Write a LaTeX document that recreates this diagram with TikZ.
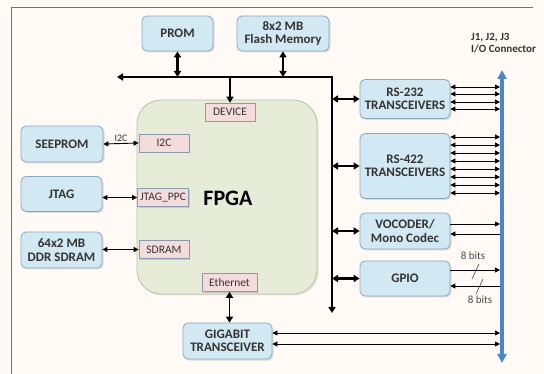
\documentclass[tikz,border=0pt]{standalone}
\usepackage{fontspec}
\setmainfont{Carlito}
\usetikzlibrary{arrows.meta,shadows}
\definecolor{bg}{HTML}{FFFAF6}
\definecolor{frame}{HTML}{9A6070}
\definecolor{boxfill}{HTML}{D2E8F2}
\definecolor{boxdraw}{HTML}{88A9BD}
\definecolor{portfill}{HTML}{F4DCDC}
\definecolor{portdraw}{HTML}{8A9BB0}
\definecolor{fpgafill}{HTML}{E7ECD8}
\definecolor{fpgadraw}{HTML}{B8C0A4}
\definecolor{txt}{HTML}{333333}
\definecolor{iob}{HTML}{4A86C8}
\tikzset{
  blk/.style={draw=boxdraw, fill=boxfill, line width=0.8pt, rounded corners=5pt,
    drop shadow={shadow xshift=1.5pt, shadow yshift=-1.5pt, opacity=0.25},
    font=\bfseries\fontsize{13}{13.5}\selectfont, text=txt, align=center, inner sep=0pt},
  port/.style={draw=portdraw, fill=portfill, line width=0.7pt,
    drop shadow={shadow xshift=1.2pt, shadow yshift=-1.2pt, opacity=0.3},
    font=\fontsize{11.5}{12}\selectfont, text=txt, inner sep=0pt,
    minimum width=50pt, minimum height=18pt},
  busarr/.style={line width=2.4pt, {Triangle[length=6pt,width=7pt]}-{Triangle[length=6pt,width=7pt]}},
  busone/.style={line width=2.4pt, -{Triangle[length=6pt,width=7pt]}},
  dbl/.style={line width=0.9pt, {Triangle[length=5pt,width=5pt]}-{Triangle[length=5pt,width=5pt]}},
  rt/.style={line width=0.9pt, -{Triangle[length=5pt,width=5pt]}},
  lbl/.style={font=\fontsize{11}{11}\selectfont, text=txt, inner sep=0pt},
}
\begin{document}
\begin{tikzpicture}[x=1pt,y=-1pt]
\useasboundingbox (0,0) rectangle (544,374);
\fill[bg] (0,0) rectangle (544,374);
\draw[frame, line width=0.7pt] (11,374) -- (11,7) -- (533,7);

% FPGA
\node[draw=fpgadraw, fill=fpgafill, line width=0.8pt, rounded corners=24pt,
  minimum width=180pt, minimum height=194pt,
  drop shadow={shadow xshift=1.5pt, shadow yshift=-1.5pt, opacity=0.2}] (fpga) at (227,197) {};
\node[font=\bfseries\fontsize{22}{22}\selectfont, text=black] (fpgat) at (228,198) {FPGA};

% ports
\node[port] (device) at (230,112) {DEVICE};
\node[port] (i2c) at (164,143) {I2C};
\node[port, minimum width=51pt] (jtagppc) at (163,197.5) {JTAG\_PPC};
\node[port] (sdram) at (164,249.5) {SDRAM};
\node[port, minimum width=55pt] (eth) at (229.5,282.5) {Ethernet};

% blocks
\node[blk, minimum width=71pt, minimum height=35pt] (prom) at (177.5,33.5) {PROM};
\node[blk, minimum width=92pt, minimum height=35pt] (flash) at (283,33.5) {8x2 MB\\Flash Memory};
\node[blk, minimum width=82pt, minimum height=36pt] (seeprom) at (62,144) {SEEPROM};
\node[blk, minimum width=81pt, minimum height=35pt] (jtag) at (61.5,194) {JTAG};
\node[blk, minimum width=81pt, minimum height=36pt] (ddr) at (61.5,250) {64x2 MB\\DDR SDRAM};
\node[blk, minimum width=89pt, minimum height=36pt] (giga) at (227.5,341) {GIGABIT\\TRANSCEIVER};
\node[blk, minimum width=90pt, minimum height=39pt] (rs232) at (405,99) {RS-232\\TRANSCEIVERS};
\node[blk, minimum width=90pt, minimum height=65pt] (rs422) at (405,166) {RS-422\\TRANSCEIVERS};
\node[blk, minimum width=90pt, minimum height=36pt] (voc) at (405,231) {VOCODER/\\Mono Codec};
\node[blk, minimum width=90pt, minimum height=35pt] (gpio) at (405,278.5) {GPIO};

% bus
\coordinate (busL) at (117,77);
\coordinate (busC) at (332,77);
\coordinate (busB) at (332,313);
\draw[busarr] (busL) -- (busC) -- (busB);
\draw[busarr] (prom.south) -- (prom.south |- busC);
\draw[busarr] (flash.south) -- (flash.south |- busC);
\draw[busone] (device.north |- busC) -- (device.north);
\draw[busarr] (busC |- rs232.west) -- (rs232.west);
\draw[busarr] (busC |- rs422.west) -- (rs422.west);
\draw[busarr] (busC |- voc.west) -- (voc.west);
\draw[busarr] (busC |- gpio.west) -- (gpio.west);

% left links
\draw[dbl] (seeprom.east) -- (i2c.west) node[midway, above=1.5pt, lbl, font=\fontsize{10}{10}\selectfont] {I2C};
\draw[dbl] (jtag.east |- jtagppc.west) -- (jtagppc.west);
\draw[dbl] (ddr.east |- sdram.west) -- (sdram.west);
\draw[busarr, line width=1.6pt] (eth.south) -- (giga.north -| eth.south);

% I/O connector
\coordinate (ioT) at (502,70);
\coordinate (ioB) at (502,363);
\coordinate (ioE) at (500,0);
\foreach \yy in {87,94,102,109}
  \draw[dbl] (rs232.east |- 0,\yy) -- (ioE |- 0,\yy);
\foreach \yy in {137,145,153,161,169,177,185,193}
  \draw[dbl] (rs422.east |- 0,\yy) -- (ioE |- 0,\yy);
\draw[rt] (voc.east |- 0,224) -- (ioE |- 0,224);
\draw[rt] (ioE |- 0,234) -- (voc.east |- 0,234);
\draw[rt] (gpio.east |- 0,270) -- (ioE |- 0,270);
\draw[rt] (ioE |- 0,286) -- (gpio.east |- 0,286);
\draw[dbl] (giga.east |- 0,333) -- (ioE |- 0,333);
\draw[dbl] (giga.east |- 0,344) -- (ioE |- 0,344);
\draw[iob, line width=3.5pt, {Triangle[length=9pt,width=9pt]}-{Triangle[length=9pt,width=9pt]}] (ioT) -- (ioB);

\node[font=\bfseries\fontsize{11}{12.5}\selectfont, text=txt, align=left, anchor=north west, inner sep=0pt] (iolbl) at (471,33) {J1, J2, J3\\I/O Connector};

% 8 bits
\node[lbl, text=black!70] (b1) at (473,256) {8 bits};
\node[lbl, text=black!70] (b2) at (480,300) {8 bits};
\draw[line width=0.6pt, black!70] (479,264) -- (472,279);
\draw[line width=0.6pt, black!70] (483,279) -- (476,294);
\end{tikzpicture}
\end{document}
